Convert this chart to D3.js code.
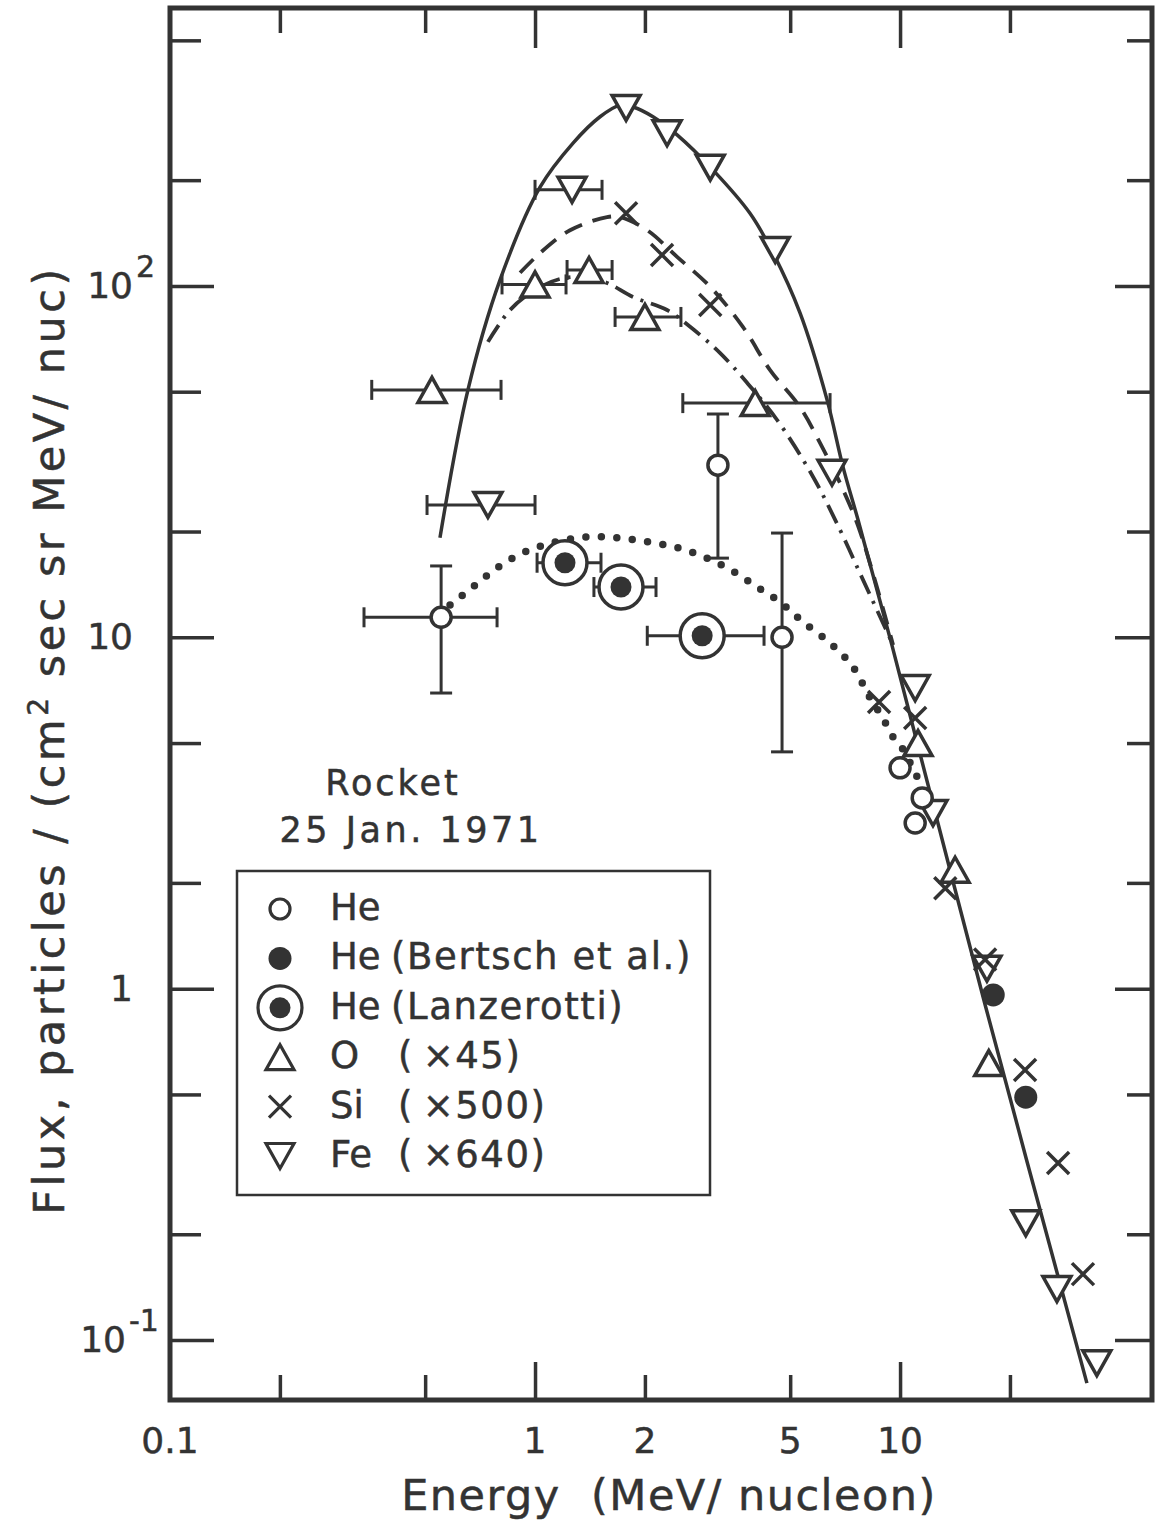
<!DOCTYPE html>
<html><head><meta charset="utf-8">
<script src="https://cdn.jsdelivr.net/npm/d3@7"></script>
<style>
body{margin:0;background:#fff;}
text{font-family:"DejaVu Sans",sans-serif;fill:#333;stroke:#333;stroke-width:0.5px;}
</style>
</head><body>
<svg id="chart" width="1158" height="1521"></svg>
<script>
// ---------- data ----------
const xTicksMajor = [1, 10];
const xTicksMinor = [0.2, 0.5, 2, 5, 20];
const xTickLabels = [[0.1, "0.1"], [1, "1"], [2, "2"], [5, "5"], [10, "10"]];
const yTicksMajor = [0.1, 1, 10, 100];
const yTicksMinor = [0.2, 0.5, 2, 5, 20, 50, 200, 500];
const yTickLabels = [[100, "10", "2"], [10, "10", ""], [1, "1", ""], [0.1, "10", "-1"]];

const heRocket = [
  {e: 0.553, f: 11.4, xlo: 0.34, xhi: 0.787, ylo: 6.94, yhi: 15.96},
  {e: 3.17, f: 30.9, ylo: 16.8, yhi: 43.2},
  {e: 4.75, f: 10.0, ylo: 4.72, yhi: 19.8},
  {e: 10.0, f: 4.25}, {e: 11.5, f: 3.49}, {e: 11.0, f: 2.96}
];
const heBertsch = [{e: 18.0, f: 0.96}, {e: 22.1, f: 0.491}];
const heLanzerotti = [
  {e: 1.208, f: 16.3, xlo: 1.013, xhi: 1.516},
  {e: 1.72, f: 13.9, xlo: 1.45, xhi: 2.145},
  {e: 2.87, f: 10.1, xlo: 2.03, xhi: 4.24}
];
const oxygen = [
  {e: 0.522, f: 50.6, xlo: 0.357, xhi: 0.807},
  {e: 1.0, f: 101, xlo: 0.812, xhi: 1.216},
  {e: 1.406, f: 111, xlo: 1.224, xhi: 1.626},
  {e: 2.0, f: 81.6, xlo: 1.657, xhi: 2.51},
  {e: 4.01, f: 46.4, xlo: 2.54, xhi: 6.43},
  {e: 11.2, f: 5.0}, {e: 14.15, f: 2.18}, {e: 17.5, f: 0.614}
];
const silicon = [
  {e: 1.776, f: 161}, {e: 2.228, f: 122.5}, {e: 3.02, f: 88.3},
  {e: 8.76, f: 6.54}, {e: 11.0, f: 5.89}, {e: 13.3, f: 1.93},
  {e: 17.1, f: 1.21}, {e: 22.0, f: 0.587}, {e: 27.1, f: 0.319}, {e: 31.7, f: 0.154}
];
const iron = [
  {e: 0.743, f: 23.8, xlo: 0.506, xhi: 1.0},
  {e: 1.263, f: 187.7, xlo: 1.0, xhi: 1.526},
  {e: 1.776, f: 321}, {e: 2.30, f: 272}, {e: 3.02, f: 217}, {e: 4.55, f: 126.6},
  {e: 6.51, f: 29.4}, {e: 11.0, f: 7.17}, {e: 12.31, f: 3.16}, {e: 17.3, f: 1.14},
  {e: 22.1, f: 0.215}, {e: 26.9, f: 0.1396}, {e: 34.6, f: 0.0859}
];

// fitted curves
const feCurve = [[0.549,19.2],[0.655,50.6],[0.802,104],[1.032,191],[1.271,255],[1.507,303],[1.71,327],[1.856,323],[2.105,303],[2.45,269],[3.07,214],[3.88,161],[4.49,124],[5.32,83.8],[6.31,47.4],[6.98,30.5],[7.67,21.6],[9.5,9.5],[17.1,0.90],[32.5,0.0754]];
const siCurve = [[0.91,109],[1.032,124],[1.247,144],[1.575,157],[1.71,157],[2.03,144],[2.45,121],[3.02,99.4],[3.71,76.5],[4.40,57.7],[5.32,45.2],[6.04,35.7],[6.98,26.3],[7.77,20.0],[9.57,9.51]];
const oCurve = [[0.743,69.3],[0.854,85.4],[1.0,97.4],[1.171,104.7],[1.388,106],[1.575,102],[1.856,93],[2.30,85.4],[2.66,76.5],[3.21,64.5],[3.81,53],[4.60,41.6],[5.78,28.6],[6.85,20.2],[7.77,15.2],[9.57,9.51]];
const heCurve = [[0.585,12.36],[0.676,13.9],[0.787,15.76],[0.927,17.4],[1.12,18.6],[1.388,19.3],[1.677,19.2],[2.03,18.7],[2.45,18.0],[2.96,16.8],[3.49,15.4],[4.06,13.9],[4.69,12.6],[5.42,11.06],[6.43,9.63],[7.43,8.23],[8.28,6.72],[8.93,5.94],[9.57,5.20],[10.13,4.84],[11.0,4.11],[11.5,3.75]];

const legendItems = [
  {sym: "he", label: "He", note: ""},
  {sym: "bertsch", label: "He", note: "(Bertsch et al.)"},
  {sym: "lanz", label: "He", note: "(Lanzerotti)"},
  {sym: "o", label: "O", note: "(\u2009×45)"},
  {sym: "si", label: "Si", note: "(\u2009×500)"},
  {sym: "fe", label: "Fe", note: "(\u2009×640)"}
];

// ---------- drawing ----------
const ink = "#333";
const svg = d3.select("#chart");
const x = d3.scaleLog().domain([0.1, 49]).range([170, 1152]);
const y = d3.scaleLog().domain([0.0675, 618]).range([1400, 8]);
const [X0, X1] = x.range();
const [Y1, Y0] = y.range();

// axes ticks (inward)
function tickAxis(axisFn, scale, vals, len, tx, ty) {
  const g = svg.append("g").attr("transform", `translate(${tx},${ty})`)
    .call(axisFn(scale).tickValues(vals).tickSize(len).tickFormat(""));
  g.select(".domain").remove();
  g.selectAll("line").attr("stroke", ink).attr("stroke-width", 3.5);
}
tickAxis(d3.axisBottom, x, xTicksMinor, -25, 0, Y1);
tickAxis(d3.axisBottom, x, xTicksMajor, -38, 0, Y1);
tickAxis(d3.axisTop, x, xTicksMinor, -25, 0, Y0);
tickAxis(d3.axisTop, x, xTicksMajor, -40, 0, Y0);
tickAxis(d3.axisLeft, y, yTicksMinor, -31, X0, 0);
tickAxis(d3.axisLeft, y, yTicksMajor, -44, X0, 0);
tickAxis(d3.axisRight, y, yTicksMinor, -25, X1, 0);
tickAxis(d3.axisRight, y, yTicksMajor, -37, X1, 0);

svg.append("rect").attr("x", X0).attr("y", Y0).attr("width", X1 - X0).attr("height", Y1 - Y0)
  .attr("fill", "none").attr("stroke", ink).attr("stroke-width", 5);

// tick labels
svg.selectAll(".xl").data(xTickLabels).enter().append("text")
  .attr("x", d => x(d[0])).attr("y", 1453).attr("text-anchor", "middle")
  .attr("font-size", 36).text(d => d[1]);
yTickLabels.forEach(d => {
  const right = d[2].length > 1 ? 126 : 133;
  svg.append("text").attr("x", right).attr("y", y(d[0]) + 12).attr("text-anchor", "end")
    .attr("font-size", 36).text(d[1]);
  if (d[2]) svg.append("text").attr("x", right + 3).attr("y", y(d[0]) - 9)
    .attr("font-size", 30).text(d[2]);
});

// axis titles
svg.append("text").attr("x", 669).attr("y", 1510).attr("text-anchor", "middle")
  .attr("font-size", 43).attr("letter-spacing", 1.5).text("Energy\u00A0\u00A0(MeV/ nucleon)");
const yt = svg.append("text").attr("transform", "translate(64,740) rotate(-90)")
  .attr("text-anchor", "middle").attr("font-size", 43).attr("letter-spacing", 3.5);
yt.append("tspan").text("Flux, particles / (cm");
yt.append("tspan").attr("font-size", 28).attr("dy", -16).text("2");
yt.append("tspan").attr("dy", 16).text(" sec sr MeV/ nuc)");

// annotation
svg.append("text").attr("x", 393).attr("y", 795).attr("text-anchor", "middle")
  .attr("font-size", 35).attr("letter-spacing", 3).text("Rocket");
svg.append("text").attr("x", 411).attr("y", 842).attr("text-anchor", "middle")
  .attr("font-size", 35).attr("letter-spacing", 3.5).text("25 Jan. 1971");

// curves
const line = d3.line().x(d => x(d[0])).y(d => y(d[1])).curve(d3.curveCatmullRom.alpha(0.5));
const curves = svg.append("g").attr("fill", "none").attr("stroke", ink);
curves.append("path").attr("d", line(feCurve)).attr("stroke-width", 3.5);
curves.append("path").attr("d", line(siCurve)).attr("stroke-width", 3.8).attr("stroke-dasharray", "19,11");
curves.append("path").attr("d", line(oCurve)).attr("stroke-width", 3.8).attr("stroke-dasharray", "20,8,3,8");
curves.append("path").attr("d", line(heCurve)).attr("stroke-width", 7.5).attr("stroke-linecap", "round").attr("stroke-dasharray", "0,15.5");

// error bars
const eg = svg.append("g").attr("stroke", ink).attr("stroke-width", 3).attr("fill", "none");
function errBars(data) {
  data.forEach(d => {
    const cx = x(d.e), cy = y(d.f);
    if (d.xlo) {
      const a = x(d.xlo), b = x(d.xhi);
      eg.append("line").attr("x1", a).attr("x2", b).attr("y1", cy).attr("y2", cy);
      eg.append("line").attr("x1", a).attr("x2", a).attr("y1", cy - 10).attr("y2", cy + 10);
      eg.append("line").attr("x1", b).attr("x2", b).attr("y1", cy - 10).attr("y2", cy + 10);
    }
    if (d.ylo) {
      const a = y(d.ylo), b = y(d.yhi);
      eg.append("line").attr("x1", cx).attr("x2", cx).attr("y1", a).attr("y2", b);
      eg.append("line").attr("x1", cx - 11).attr("x2", cx + 11).attr("y1", a).attr("y2", a);
      eg.append("line").attr("x1", cx - 11).attr("x2", cx + 11).attr("y1", b).attr("y2", b);
    }
  });
}
[heRocket, heLanzerotti, oxygen, iron].forEach(errBars);

// markers
const mg = svg.append("g").attr("stroke", ink).attr("stroke-width", 3.5);
function marker(g, type, cx, cy, s) {
  s = s || 1;
  if (type === "he") {
    g.append("circle").attr("cx", cx).attr("cy", cy).attr("r", 10 * s).attr("fill", "#fff");
  } else if (type === "bertsch") {
    g.append("circle").attr("cx", cx).attr("cy", cy).attr("r", 11.5 * s).attr("fill", ink).attr("stroke", "none");
  } else if (type === "lanz") {
    g.append("circle").attr("cx", cx).attr("cy", cy).attr("r", 22).attr("fill", "#fff");
    g.append("circle").attr("cx", cx).attr("cy", cy).attr("r", 10.5).attr("fill", ink).attr("stroke", "none");
  } else if (type === "o") {
    const w = 14 * s, h = 12.5 * s;
    g.append("path").attr("d", `M${cx - w},${cy + h}L${cx + w},${cy + h}L${cx},${cy - h}Z`)
      .attr("fill", "#fff");
  } else if (type === "fe") {
    const w = 14 * s, h = 12.5 * s;
    g.append("path").attr("d", `M${cx - w},${cy - h}L${cx + w},${cy - h}L${cx},${cy + h}Z`)
      .attr("fill", "#fff");
  } else if (type === "si") {
    const k = 11 * s;
    g.append("path").attr("d", `M${cx - k},${cy - k}L${cx + k},${cy + k}M${cx - k},${cy + k}L${cx + k},${cy - k}`)
      .attr("fill", "none");
  }
}
oxygen.forEach(d => marker(mg, "o", x(d.e), y(d.f)));
iron.forEach(d => marker(mg, "fe", x(d.e), y(d.f)));
silicon.forEach(d => marker(mg, "si", x(d.e), y(d.f)));
heRocket.forEach(d => marker(mg, "he", x(d.e), y(d.f)));
heBertsch.forEach(d => marker(mg, "bertsch", x(d.e), y(d.f)));
heLanzerotti.forEach(d => marker(mg, "lanz", x(d.e), y(d.f)));

// legend
const lg = svg.append("g");
lg.append("rect").attr("x", 237).attr("y", 871).attr("width", 473).attr("height", 324)
  .attr("fill", "#fff").attr("stroke", ink).attr("stroke-width", 2.5);
const lm = lg.append("g").attr("stroke", ink).attr("stroke-width", 3.2);
legendItems.forEach((d, i) => {
  const cy = 909 + i * 49.4;
  marker(lm, d.sym, 280, cy, 1);
  const t = lg.append("text").attr("x", 330).attr("y", cy + 11).attr("font-size", 37);
  t.append("tspan").text(d.label);
  if (d.note) {
    const isHe = d.sym === "bertsch" || d.sym === "lanz";
    t.append("tspan").attr("x", isHe ? 391 : 398)
      .attr("letter-spacing", isHe ? 1.6 : 1.5).text(d.note);
  }
});
</script>
</body></html>
